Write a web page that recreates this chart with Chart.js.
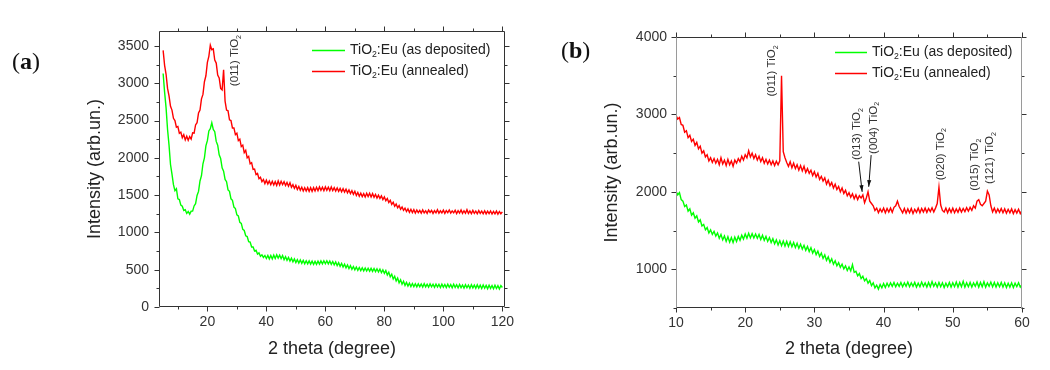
<!DOCTYPE html>
<html>
<head>
<meta charset="utf-8">
<title>XRD of TiO2:Eu films</title>
<script src="https://cdn.jsdelivr.net/npm/chart.js@4.4.1/dist/chart.umd.min.js"></script>
<style>
  html, body { margin: 0; padding: 0; background: #fff; }
  .panel { position: absolute; top: 0; height: 370px; }
  #panelA { left: 0; width: 530px; }
  #panelB { left: 530px; width: 520px; }
</style>
</head>
<body>
<div class="panel" id="panelA"><canvas id="chartA" width="530" height="370"></canvas></div>
<div class="panel" id="panelB"><canvas id="chartB" width="520" height="370"></canvas></div>
<script>
const FONT = "'Liberation Sans', Arial, sans-serif";
const GREEN = '#00ff00';
const RED = '#ff0000';

const SERIES_NAMES = ['TiO2:Eu (as deposited)', 'TiO2:Eu (annealed)'];

// ---- panel (a): 2theta 5..120 deg, one reading every 0.5 deg ----
const A_THETA_START = 5;
const A_THETA_STEP = 0.5;

const A_DEPOSITED = [
  3130, 2880, 2670, 2380, 2170, 1910, 1780, 1640, 1560, 1585,
  1450, 1440, 1365, 1350, 1295, 1305, 1255, 1280, 1245, 1285,
  1285, 1355, 1385, 1495, 1550, 1690, 1760, 1920, 2000, 2160,
  2230, 2360, 2390, 2470, 2380, 2350, 2220, 2170, 2040, 1990,
  1865, 1820, 1710, 1680, 1570, 1550, 1450, 1430, 1340, 1320,
  1235, 1220, 1135, 1120, 1040, 1025, 955, 945, 875, 870,
  805, 805, 750, 760, 710, 725, 680, 700, 665, 690,
  650, 690, 645, 690, 645, 695, 650, 700, 655, 695,
  650, 690, 635, 675, 625, 665, 615, 655, 605, 645,
  595, 635, 590, 630, 585, 625, 580, 620, 578, 618,
  575, 615, 572, 612, 572, 614, 575, 618, 578, 620,
  580, 620, 578, 616, 572, 610, 565, 603, 555, 593,
  545, 583, 535, 573, 525, 563, 515, 553, 505, 543,
  498, 536, 492, 530, 488, 526, 485, 523, 482, 520,
  480, 518, 478, 516, 475, 513, 470, 508, 460, 498,
  450, 488, 430, 466, 405, 440, 375, 412, 350, 388,
  325, 365, 305, 345, 290, 330, 280, 320, 275, 315,
  273, 312, 270, 310, 272, 308, 268, 312, 270, 306,
  266, 310, 270, 305, 264, 308, 268, 304, 262, 306,
  266, 302, 260, 305, 264, 300, 258, 304, 262, 298,
  256, 302, 260, 296, 254, 300, 258, 295, 252, 298,
  256, 294, 250, 297, 254, 292, 248, 295, 252, 290,
  246, 293, 250, 288, 244, 291, 248, 286, 242, 288,
  262
];

const A_ANNEALED = [
  3440, 3240, 3120, 2930, 2830, 2690, 2640, 2530, 2500, 2410,
  2420, 2330, 2345, 2270, 2310, 2240, 2290, 2235, 2285, 2250,
  2335, 2330, 2440, 2470, 2600, 2640, 2790, 2850, 3020, 3100,
  3280, 3360, 3510, 3450, 3460, 3310, 3270, 3110, 3070, 2930,
  2910, 3180, 2760, 2640, 2630, 2510, 2500, 2400, 2400, 2310,
  2330, 2230, 2250, 2150, 2170, 2070, 2100, 2000, 2020, 1920,
  1935, 1845, 1850, 1775, 1790, 1720, 1740, 1680, 1710, 1655,
  1700, 1650, 1690, 1640, 1685, 1635, 1680, 1630, 1690, 1635,
  1685, 1640, 1680, 1630, 1670, 1620, 1665, 1605, 1640, 1590,
  1630, 1575, 1615, 1565, 1605, 1555, 1600, 1555, 1600, 1550,
  1600, 1550, 1600, 1555, 1605, 1560, 1610, 1565, 1605, 1560,
  1610, 1565, 1605, 1560, 1610, 1560, 1600, 1555, 1595, 1550,
  1590, 1545, 1585, 1540, 1580, 1530, 1570, 1520, 1560, 1510,
  1550, 1495, 1535, 1485, 1525, 1480, 1520, 1475, 1525, 1480,
  1525, 1475, 1520, 1470, 1510, 1460, 1500, 1455, 1490, 1440,
  1475, 1425, 1455, 1400, 1430, 1375, 1405, 1350, 1380, 1330,
  1360, 1310, 1340, 1295, 1325, 1280, 1315, 1270, 1310, 1265,
  1305, 1260, 1300, 1265, 1295, 1258, 1302, 1262, 1290, 1255,
  1300, 1268, 1296, 1255, 1292, 1262, 1305, 1258, 1290, 1262,
  1298, 1255, 1292, 1265, 1300, 1258, 1288, 1262, 1296, 1252,
  1292, 1260, 1300, 1255, 1290, 1258, 1305, 1255, 1288, 1252,
  1295, 1256, 1286, 1250, 1292, 1255, 1285, 1250, 1290, 1248,
  1284, 1252, 1288, 1246, 1282, 1250, 1286, 1245, 1280, 1250,
  1275
];

const A_X_TICKS = [20, 40, 60, 80, 100, 120];
const A_X_MINOR = [10, 30, 50, 70, 90, 110];
const A_Y_TICKS = [0, 500, 1000, 1500, 2000, 2500, 3000, 3500];
const A_Y_MINOR = [250, 750, 1250, 1750, 2250, 2750, 3250];
const A_PEAKS = [{ x: 29.4, y: 2960, text: '(011) TiO2' }];

// ---- panel (b): 2theta 10..60 deg, one reading every 0.25 deg ----
const B_THETA_START = 10;
const B_THETA_STEP = 0.25;

const B_DEPOSITED = [
  2010, 1960, 1990, 1900, 1880, 1810, 1830, 1750,
  1780, 1700, 1730, 1660, 1690, 1610, 1640, 1560,
  1580, 1510, 1540, 1470, 1510, 1450, 1490, 1430,
  1470, 1400, 1450, 1380, 1430, 1360, 1420, 1350,
  1410, 1345, 1415, 1360, 1425, 1375, 1440, 1390,
  1455, 1400, 1465, 1405, 1460, 1405, 1455, 1400,
  1450, 1385, 1440, 1375, 1425, 1360, 1410, 1345,
  1395, 1330, 1380, 1315, 1370, 1305, 1365, 1300,
  1360, 1295, 1355, 1290, 1345, 1280, 1335, 1270,
  1325, 1260, 1310, 1245, 1295, 1230, 1280, 1210,
  1255, 1190, 1235, 1165, 1210, 1140, 1185, 1115,
  1160, 1090, 1135, 1065, 1110, 1045, 1085, 1025,
  1065, 1005, 1045, 985, 1030, 980, 1060, 960,
  975, 915, 945, 880, 910, 850, 880, 820,
  855, 790, 825, 760, 795, 745, 805, 760,
  815, 765, 820, 775, 825, 780, 830, 775,
  820, 780, 830, 775, 825, 780, 835, 775,
  825, 780, 830, 770, 820, 775, 835, 780,
  825, 770, 830, 775, 840, 780, 825, 770,
  830, 775, 825, 765, 820, 775, 830, 770,
  825, 775, 835, 770, 830, 775, 845, 770,
  825, 775, 830, 770, 825, 780, 835, 770,
  830, 775, 840, 770, 825, 780, 835, 775,
  830, 770, 825, 775, 830, 770, 825, 765,
  820, 770, 825, 765, 820, 775, 825, 770,
  800
];

const B_ANNEALED = [
  2990, 2940, 2960, 2870, 2860, 2770, 2790, 2700,
  2730, 2650, 2680, 2600, 2640, 2555, 2590, 2500,
  2530, 2450, 2480, 2400, 2440, 2380, 2430, 2370,
  2420, 2350, 2440, 2360, 2410, 2340, 2420, 2350,
  2400, 2330, 2410, 2370, 2430, 2390, 2460, 2410,
  2480, 2440, 2530, 2450, 2500, 2430, 2480, 2410,
  2460, 2390, 2440, 2370, 2420, 2360, 2410, 2350,
  2400, 2340, 2395, 2350, 2400, 3500, 2520, 2440,
  2380, 2330, 2390, 2310, 2370, 2300, 2350, 2280,
  2340, 2270, 2330, 2250, 2300, 2240, 2280, 2210,
  2260, 2190, 2240, 2160, 2200, 2140, 2180, 2100,
  2150, 2080, 2120, 2050, 2100, 2030, 2070, 2000,
  2050, 1980, 2020, 1950, 1990, 1930, 1975, 1910,
  1960, 1900, 1950, 1920, 1960, 1860, 1920, 2000,
  1880, 1850, 1820, 1760, 1790, 1730, 1780, 1740,
  1790, 1730, 1785, 1740, 1790, 1735, 1800, 1820,
  1880, 1810, 1770, 1730, 1785, 1725, 1780, 1730,
  1785, 1720, 1775, 1735, 1790, 1730, 1785, 1740,
  1790, 1735, 1785, 1745, 1795, 1740, 1790, 1850,
  2060, 1830, 1760, 1740, 1790, 1730, 1785, 1735,
  1790, 1730, 1780, 1735, 1790, 1740, 1785, 1745,
  1795, 1750, 1800, 1760, 1820, 1790, 1880, 1900,
  1840, 1820, 1850, 1880, 2010, 1960, 1820, 1740,
  1790, 1730, 1780, 1735, 1785, 1730, 1780, 1725,
  1775, 1730, 1780, 1720, 1770, 1725, 1775, 1720,
  1760
];

const B_X_TICKS = [10, 20, 30, 40, 50, 60];
const B_X_MINOR = [15, 25, 35, 45, 55];
const B_Y_TICKS = [1000, 2000, 3000, 4000];
const B_Y_MINOR = [500, 1500, 2500, 3500];
const B_PEAKS = [
  { x: 23.9, y: 3230, text: '(011) TiO2' },
  { x: 36.15, y: 2410, text: '(013) TiO2' },
  { x: 38.55, y: 2490, text: '(004) TiO2' },
  { x: 48.2, y: 2150, text: '(020) TiO2' },
  { x: 53.25, y: 2015, text: '(015) TiO2' },
  { x: 55.4, y: 2100, text: '(121) TiO2' },
];
const B_ARROWS = [
  { from: [36.4, 2390], to: [36.9, 2000] },
  { from: [38.2, 2475], to: [37.85, 2065] },
];

// pair each reading with its 2theta position
function toPoints(values, start, step) {
  return values.map((v, i) => ({ x: start + i * step, y: v }));
}

// text like "TiO2": digits right after a letter are drawn as subscript
function drawChem(ctx, text, x, y, size) {
  const parts = text.split(/(?<=[A-Za-z])(\d+)/);
  let cx = x;
  parts.forEach((part, i) => {
    const sub = i % 2 === 1;
    ctx.font = `${sub ? size * 0.62 : size}px ${FONT}`;
    ctx.fillText(part, cx, y + (sub ? size * 0.32 : 0));
    cx += ctx.measureText(part).width;
  });
}

// closed frame with outward major/minor ticks on all four sides
function makeFrame(xMajor, xMinor, yMajor, yMinor, sideColor) {
  return {
    id: 'frame',
    afterDatasetsDraw(chart) {
      const { ctx, chartArea: { left, right, top, bottom }, scales: { x, y } } = chart;
      const L = left + 0.5, R = right - 0.5, T = top + 0.5, B = bottom - 0.5;
      ctx.save();
      ctx.lineWidth = 1;
      ctx.strokeStyle = '#333';
      ctx.beginPath();
      ctx.moveTo(L, T); ctx.lineTo(R, T);
      ctx.moveTo(L, B); ctx.lineTo(R, B);
      const xt = (vals, len) => vals.forEach(v => {
        const p = Math.round(x.getPixelForValue(v)) + 0.5;
        ctx.moveTo(p, B); ctx.lineTo(p, B + len);
        ctx.moveTo(p, T); ctx.lineTo(p, T - len);
      });
      const yt = (vals, len) => vals.forEach(v => {
        const p = Math.round(y.getPixelForValue(v)) + 0.5;
        ctx.moveTo(L, p); ctx.lineTo(L - len, p);
        ctx.moveTo(R, p); ctx.lineTo(R + len, p);
      });
      xt(xMajor, 5); xt(xMinor, 3);
      yt(yMajor, 5); yt(yMinor, 3);
      ctx.stroke();
      ctx.strokeStyle = sideColor;
      ctx.beginPath();
      ctx.moveTo(L, T); ctx.lineTo(L, B);
      ctx.moveTo(R, T); ctx.lineTo(R, B);
      ctx.stroke();
      ctx.restore();
    }
  };
}

// vertical peak labels (+ optional arrows) anchored in data units
function makePeakLabels(peaks, arrows) {
  return {
    id: 'peakLabels',
    afterDatasetsDraw(chart) {
      const { ctx, scales: { x, y } } = chart;
      ctx.save();
      ctx.fillStyle = '#333';
      ctx.textBaseline = 'middle';
      ctx.textAlign = 'left';
      peaks.forEach(p => {
        ctx.save();
        ctx.translate(x.getPixelForValue(p.x), y.getPixelForValue(p.y));
        ctx.rotate(-Math.PI / 2);
        drawChem(ctx, p.text, 0, 0, 11.5);
        ctx.restore();
      });
      ctx.strokeStyle = '#111';
      ctx.fillStyle = '#111';
      ctx.lineWidth = 1;
      arrows.forEach(a => {
        const x0 = x.getPixelForValue(a.from[0]), y0 = y.getPixelForValue(a.from[1]);
        const x1 = x.getPixelForValue(a.to[0]), y1 = y.getPixelForValue(a.to[1]);
        const ang = Math.atan2(y1 - y0, x1 - x0);
        ctx.beginPath();
        ctx.moveTo(x0, y0); ctx.lineTo(x1, y1);
        ctx.stroke();
        ctx.beginPath();
        ctx.moveTo(x1, y1);
        ctx.lineTo(x1 - 7 * Math.cos(ang - 0.3), y1 - 7 * Math.sin(ang - 0.3));
        ctx.lineTo(x1 - 7 * Math.cos(ang + 0.3), y1 - 7 * Math.sin(ang + 0.3));
        ctx.closePath();
        ctx.fill();
      });
      ctx.restore();
    }
  };
}

// legend inside the plot, line sample + subscripted name
function makeLegend(lx, ly, lineLen) {
  return {
    id: 'boxLegend',
    afterDatasetsDraw(chart) {
      const { ctx } = chart;
      ctx.save();
      ctx.textBaseline = 'middle';
      ctx.textAlign = 'left';
      chart.data.datasets.forEach((ds, i) => {
        const yy = ly + i * 21;
        ctx.strokeStyle = ds.borderColor;
        ctx.lineWidth = 1.5;
        ctx.beginPath();
        ctx.moveTo(lx, yy + 0.5); ctx.lineTo(lx + lineLen, yy + 0.5);
        ctx.stroke();
        ctx.fillStyle = '#222';
        drawChem(ctx, ds.label, lx + lineLen + 5, yy, 14);
      });
      ctx.restore();
    }
  };
}

// "(a)" / "(b)" panel tag
function makeTag(letter, tx, ty) {
  return {
    id: 'panelTag',
    afterDraw(chart) {
      const { ctx } = chart;
      ctx.save();
      ctx.fillStyle = '#111';
      ctx.textBaseline = 'middle';
      ctx.textAlign = 'left';
      let cx = tx;
      [['(', ''], [letter, 'bold '], [')', '']].forEach(([s, w]) => {
        ctx.font = `${w}24px 'Liberation Serif', 'DejaVu Serif', serif`;
        ctx.fillText(s, cx, ty);
        cx += ctx.measureText(s).width;
      });
      ctx.restore();
    }
  };
}

function axis(min, max, ticks, pad, size, title, titlePad) {
  return {
    type: 'linear',
    min, max,
    grid: { display: false, drawTicks: false },
    border: { display: false },
    afterBuildTicks: s => { s.ticks = ticks.map(v => ({ value: v })); },
    ticks: {
      autoSkip: false, maxRotation: 0, padding: pad, color: '#333',
      font: { family: FONT, size: 14 },
      callback: v => String(v),
    },
    afterFit: s => {
      if (s.isHorizontal()) s.height = size; else s.width = size;
    },
    title: {
      display: true, text: title, color: '#222',
      font: { family: FONT, size: 18 },
      padding: titlePad,
    },
  };
}

function buildChart(id, cfg) {
  return new Chart(document.getElementById(id), {
    type: 'line',
    data: {
      datasets: [
        { label: SERIES_NAMES[0], data: cfg.deposited, borderColor: GREEN },
        { label: SERIES_NAMES[1], data: cfg.annealed, borderColor: RED },
      ].map(d => Object.assign(d, { borderWidth: 1.4, pointRadius: 0, tension: 0, fill: false })),
    },
    options: {
      responsive: false,
      animation: false,
      events: [],
      layout: { padding: cfg.padding },
      plugins: { legend: { display: false }, tooltip: { enabled: false } },
      scales: { x: cfg.x, y: cfg.y },
    },
    plugins: cfg.plugins,
  });
}

buildChart('chartA', {
  deposited: toPoints(A_DEPOSITED, A_THETA_START, A_THETA_STEP),
  annealed: toPoints(A_ANNEALED, A_THETA_START, A_THETA_STEP),
  padding: { left: 75, top: 31, right: 25, bottom: 5 },
  x: axis(3.6, 120.9, A_X_TICKS, 7, 58, '2 theta (degree)', { top: 0, bottom: 5 }),
  y: axis(0, 3700, A_Y_TICKS, 10, 84, 'Intensity (arb.un.)', { top: 9, bottom: 0 }),
  plugins: [
    makeFrame(A_X_TICKS, A_X_MINOR, A_Y_TICKS, A_Y_MINOR, '#333'),
    makePeakLabels(A_PEAKS, []),
    makeLegend(312, 50, 33),
    makeTag('a', 12, 63),
  ],
});

buildChart('chartB', {
  deposited: toPoints(B_DEPOSITED, B_THETA_START, B_THETA_STEP),
  annealed: toPoints(B_ANNEALED, B_THETA_START, B_THETA_STEP),
  padding: { left: 66, top: 37, right: 28, bottom: 5 },
  x: axis(10, 60, B_X_TICKS, 7, 57, '2 theta (degree)', { top: 0, bottom: 5 }),
  y: axis(500, 4000, B_Y_TICKS, 9, 80, 'Intensity (arb.un.)', { top: 5, bottom: 0 }),
  plugins: [
    makeFrame(B_X_TICKS, B_X_MINOR, B_Y_TICKS, B_Y_MINOR, '#9a9a9a'),
    makePeakLabels(B_PEAKS, B_ARROWS),
    makeLegend(305, 52, 32),
    makeTag('b', 31, 52),
  ],
});
</script>
</body>
</html>
